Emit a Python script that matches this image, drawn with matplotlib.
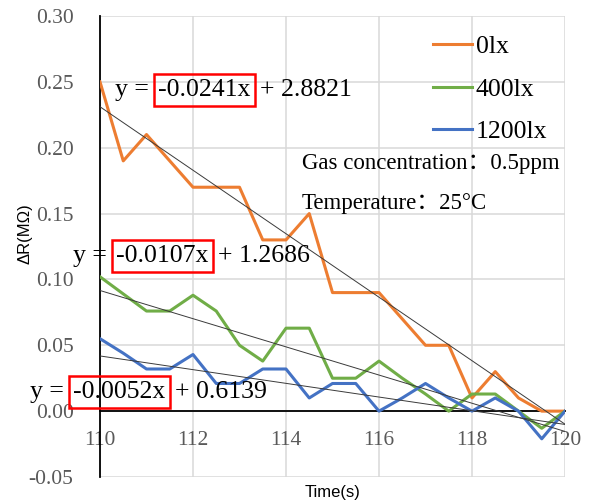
import matplotlib
matplotlib.use("Agg")
import matplotlib.pyplot as plt
import numpy as np

# data
time_s = [110, 110.5, 111, 111.5, 112, 112.5, 113, 113.5, 114, 114.5, 115,
          115.5, 116, 116.5, 117, 117.5, 118, 118.5, 119, 119.5, 120]
dr_0lx = [0.25, 0.19, 0.21, 0.19, 0.17, 0.17, 0.17, 0.13, 0.13, 0.15, 0.09,
          0.09, 0.09, 0.07, 0.05, 0.05, 0.01, 0.03, 0.01, 0.0, 0.0]
dr_400lx = [0.102, 0.089, 0.076, 0.076, 0.088, 0.076, 0.05, 0.038, 0.063, 0.063, 0.025,
            0.025, 0.038, 0.025, 0.013, 0.0, 0.013, 0.013, 0.0, -0.013, 0.0]
dr_1200lx = [0.055, 0.044, 0.032, 0.032, 0.043, 0.021, 0.021, 0.032, 0.032, 0.01, 0.021,
             0.021, 0.0, 0.01, 0.021, 0.01, 0.0, 0.01, 0.0, -0.021, 0.0]
labels = ["0lx", "400lx", "1200lx"]
colors = ["#ED7D31", "#70AD47", "#4472C4"]

# linear trend lines shown on the chart
slopes = [-0.0241, -0.0107, -0.0052]
intercepts = [2.8821, 1.2686, 0.6139]
slope_txt = ["-0.0241x", "-0.0107x", "-0.0052x"]
icpt_txt = ["+ 2.8821", "+ 1.2686", "+ 0.6139"]

serif = ["Liberation Serif", "Noto Sans CJK SC"]
gray = "#595959"

fig = plt.figure(figsize=(5.94, 5.04), dpi=100)
ax = fig.add_axes([100 / 594, 27 / 504, 465 / 594, 461 / 504])

series = [dr_0lx, dr_400lx, dr_1200lx]
for ys, lab, c in zip(series, labels, colors):
    ax.plot(time_s, ys, color=c, lw=2.2, label=lab, zorder=3)

xfit = np.array([time_s[0], time_s[-1]])
for m, b in zip(slopes, intercepts):
    ax.plot(xfit, m * xfit + b, color="#3a3a3a", lw=0.7, zorder=4)

ax.set_xlim(110, 120)
ax.set_ylim(-0.05, 0.30)
ax.set_xticks(np.arange(110, 121, 2))
ax.set_yticks(np.arange(-0.05, 0.31, 0.05))
ax.set_yticklabels([f"{v:.2f}" for v in np.arange(-0.05, 0.31, 0.05)])
ax.grid(True, color="#d9d9d9", lw=1.1)
ax.set_axisbelow(True)
for s in ["top", "right"]:
    ax.spines[s].set_visible(False)
ax.spines["left"].set_linewidth(1.3)
ax.spines["bottom"].set_linewidth(1.3)
ax.spines["bottom"].set_position(("data", 0))
ax.tick_params(axis="both", length=0, labelcolor=gray, labelsize=15.5)
ax.tick_params(axis="y", pad=19)
ax.tick_params(axis="x", pad=14)
for t in ax.get_xticklabels() + ax.get_yticklabels():
    t.set_fontfamily(serif)

fig.text(333 / 594, 1 - 493 / 504, "Time(s)", ha="center", va="center",
         fontsize=12, family="Liberation Sans")
fig.text(25 / 594, 1 - 234 / 504, "ΔR(MΩ)", ha="center", va="center",
         rotation=90, fontsize=12, family="Liberation Sans")

leg = ax.legend(loc="upper left", bbox_to_anchor=(433 / 594, 1 - 35 / 504),
                bbox_transform=fig.transFigure, frameon=False,
                prop={"family": serif, "size": 18.5}, handlelength=1.52,
                handletextpad=0.15, labelspacing=0.76, borderpad=0,
                borderaxespad=0)

fig.text(302 / 594, 1 - 163 / 504, "Gas concentration：0.5ppm", va="center",
         fontsize=16.5, family=serif)
fig.text(302 / 594, 1 - 203 / 504, "Temperature：25°C", va="center",
         fontsize=16.5, family=serif)

# equations with the slope term boxed in red
eq_pos = [(115, 90), (73, 256), (30, 392)]
for (px, py), st, it in zip(eq_pos, slope_txt, icpt_txt):
    t1 = fig.text(px / 594, 1 - py / 504, "y = ", va="center", fontsize=18.5,
                  family=serif, zorder=6)
    t2 = ax.annotate(st, xy=(1, 0), xycoords=t1, va="bottom", ha="left",
                     xytext=(2, 0), textcoords="offset points",
                     fontsize=18.5, family=serif, zorder=6,
                     annotation_clip=False,
                     bbox=dict(boxstyle="square,pad=0.18", ec="red", fc="none", lw=1.8))
    ax.annotate(it, xy=(1, 0), xycoords=t2, va="bottom", ha="left",
                xytext=(7, 0), textcoords="offset points",
                fontsize=18.5, family=serif, zorder=6, annotation_clip=False)

fig.savefig("out.png", dpi=100)
